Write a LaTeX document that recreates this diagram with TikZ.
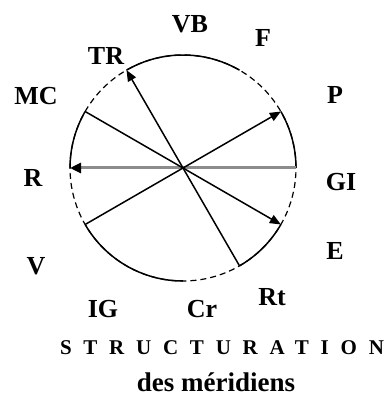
\documentclass[tikz,border=0pt]{standalone}
\usepackage{fontspec}
\setmainfont{Liberation Serif}
\usetikzlibrary{arrows.meta, calc}

\begin{document}
\begin{tikzpicture}[
  x=1pt, y=1pt,
  cercle/.style={
    draw=black, line width=1.2pt, dash pattern=on 6pt off 4pt
  },
  trait/.style={draw=black, line width=1.5pt},
  fleche/.style={
    -{Triangle[length=11pt, width=9pt]},
    line width=1.5pt, draw=black
  },
  axe/.style={
    -{Triangle[length=11pt, width=10pt, black]},
    line width=3pt, draw=black!45
  },
  etiquette/.style={
    font=\bfseries\fontsize{26}{26}\selectfont, inner sep=0pt
  },
  titre/.style={
    font=\bfseries\fontsize{21}{21}\selectfont, inner sep=0pt
  }
]
  \useasboundingbox (0,0) rectangle (384,397);

  % Cercle des meridiens
  \coordinate (centre) at (183,229);
  \draw[cercle] (centre) circle[radius=113];

  % Points sur le cercle
  \foreach \n/\a in {gi/0, p/30, f/60, vb/90, tr/120, mc/150,
                     r/180, v/210, ig/240, cr/270, rt/300, e/330} {
    \coordinate (\n) at ($(centre)+(\a:113)$);
  }

  % Etiquettes
  \node[etiquette] (lvb) at (190,373) {VB};
  \node[etiquette] (lf)  at (263,359) {F};
  \node[etiquette] (lp)  at (335,302) {P};
  \node[etiquette] (lgi) at (341,215) {GI};
  \node[etiquette] (le)  at (335,146) {E};
  \node[etiquette] (lrt) at (272,100) {Rt};
  \node[etiquette] (lcr) at (202,88)  {Cr};
  \node[etiquette] (lig) at (103,88)  {IG};
  \node[etiquette] (lv)  at (36,131)  {V};
  \node[etiquette] (lr)  at (33,219)  {R};
  \node[etiquette] (lmc) at (36,301)  {MC};
  \node[etiquette] (ltr) at (106,341) {TR};

  % Arcs pleins
  \draw[trait] (tr) arc[start angle=120, end angle=60, radius=113];
  \draw[trait] (p) arc[start angle=30, end angle=0, radius=113];
  \draw[trait] (mc) arc[start angle=150, end angle=180, radius=113];
  \draw[trait] (v) arc[start angle=210, end angle=270, radius=113];
  \draw[trait] (rt) arc[start angle=300, end angle=330, radius=113];

  % Diametres
  \draw[axe] (gi) -- (r);
  \draw[fleche] (mc) -- (e);
  \draw[fleche] (v) -- (p);
  \draw[fleche] (rt) -- (tr);

  % Titre
  \node[titre] (struct) at (222,49) {\addfontfeature{LetterSpace=56}STRUCTURATION};
  \node[etiquette, font=\bfseries\fontsize{27}{27}\selectfont] (merid) at (216,15) {des méridiens};

\end{tikzpicture}
\end{document}
